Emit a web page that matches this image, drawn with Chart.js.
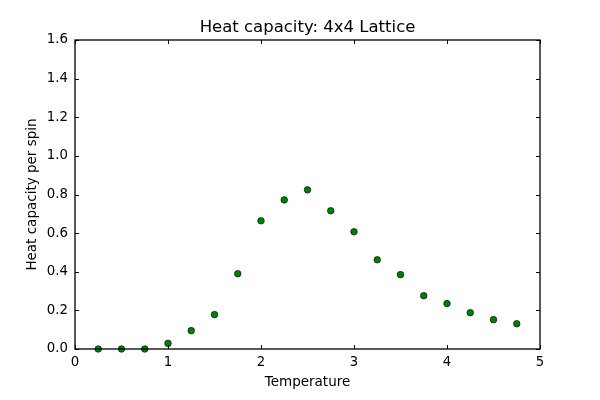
<!DOCTYPE html>
<html>
<head>
<meta charset="utf-8">
<script src="https://cdn.jsdelivr.net/npm/chart.js@4/dist/chart.umd.min.js"></script>
<style>
  body { margin: 0; background: #fff; }
  canvas { display: block; }
</style>
</head>
<body>
<canvas id="grafico" width="600" height="400"></canvas>
<script>
// temperaturas e calor especifico
const temperaturas = [0.25, 0.5, 0.75, 1.0, 1.25, 1.5, 1.75, 2.0, 2.25, 2.5, 2.75, 3.0, 3.25, 3.5, 3.75, 4.0, 4.25, 4.5, 4.75];
const calorEspecifico = [0.0, 0.0, 0.0, 0.029, 0.095, 0.178, 0.390, 0.664, 0.772, 0.824, 0.716, 0.607, 0.462, 0.385, 0.276, 0.235, 0.188, 0.152, 0.131];
const ticksX = [0, 1, 2, 3, 4, 5];
const ticksY = [0, 0.2, 0.4, 0.6, 0.8, 1.0, 1.2, 1.4, 1.6];
const titulo = "Heat capacity: 4x4 Lattice";

const fonte = "'DejaVu Sans', sans-serif";

// ticks para dentro nos quatro lados, moldura e titulo centrado na area do grafico
const ticksDentro = {
    id: "ticksDentro",
    afterDraw(chart) {
        const c = chart.ctx;
        const a = chart.chartArea;
        const sx = chart.scales.x, sy = chart.scales.y;
        c.save();
        c.strokeStyle = "#000";
        c.lineWidth = 1;
        c.beginPath();
        ticksX.forEach(v => {
            const px = Math.round(sx.getPixelForValue(v)) + 0.5;
            c.moveTo(px, a.bottom); c.lineTo(px, a.bottom - 4);
            c.moveTo(px, a.top); c.lineTo(px, a.top + 4);
        });
        ticksY.forEach(v => {
            const py = Math.round(sy.getPixelForValue(v)) + 0.5;
            c.moveTo(a.left, py); c.lineTo(a.left + 4, py);
            c.moveTo(a.right, py); c.lineTo(a.right - 4, py);
        });
        c.stroke();
        c.lineWidth = 1.3;
        c.strokeRect(a.left, a.top, a.right - a.left, a.bottom - a.top);

        c.fillStyle = "#000";
        c.font = "16.5px " + fonte;
        c.textAlign = "center";
        c.textBaseline = "middle";
        c.fillText(titulo, (a.left + a.right) / 2, 28);
        c.restore();
    }
};

const pontos = temperaturas.map((t, i) => ({ x: t, y: calorEspecifico[i] }));

new Chart(document.getElementById("grafico"), {
    type: "scatter",
    data: {
        datasets: [{
            data: pontos,
            backgroundColor: "#008000",
            borderColor: "#000",
            borderWidth: 0.6,
            pointRadius: 3.3,
            clip: false
        }]
    },
    options: {
        responsive: false,
        animation: false,
        layout: { padding: { left: 0, right: 60, top: 40, bottom: 0 } },
        plugins: {
            legend: { display: false },
            tooltip: { enabled: false },
            title: { display: false }
        },
        scales: {
            x: {
                type: "linear",
                min: 0, max: 5,
                afterBuildTicks: s => { s.ticks = ticksX.map(v => ({ value: v })); },
                afterFit: s => { s.height = 51; },
                grid: { drawOnChartArea: false, drawTicks: false },
                border: { display: false },
                ticks: { color: "#000", padding: 6, font: { family: fonte, size: 13.3 }, maxRotation: 0 },
                title: { display: true, text: "Temperature", color: "#000", padding: { top: 0, bottom: 9 }, font: { family: fonte, size: 13.5 } }
            },
            y: {
                type: "linear",
                min: 0, max: 1.6,
                afterBuildTicks: s => { s.ticks = ticksY.map(v => ({ value: v })); },
                afterFit: s => { s.width = 75; },
                grid: { drawOnChartArea: false, drawTicks: false },
                border: { display: false },
                ticks: { color: "#000", padding: 7, font: { family: fonte, size: 13.3 }, callback: v => v.toFixed(1) },
                title: { display: true, text: "Heat capacity per spin", color: "#000", padding: { top: 24, bottom: 0 }, font: { family: fonte, size: 13.5 } }
            }
        }
    },
    plugins: [ticksDentro]
});
</script>
</body>
</html>
